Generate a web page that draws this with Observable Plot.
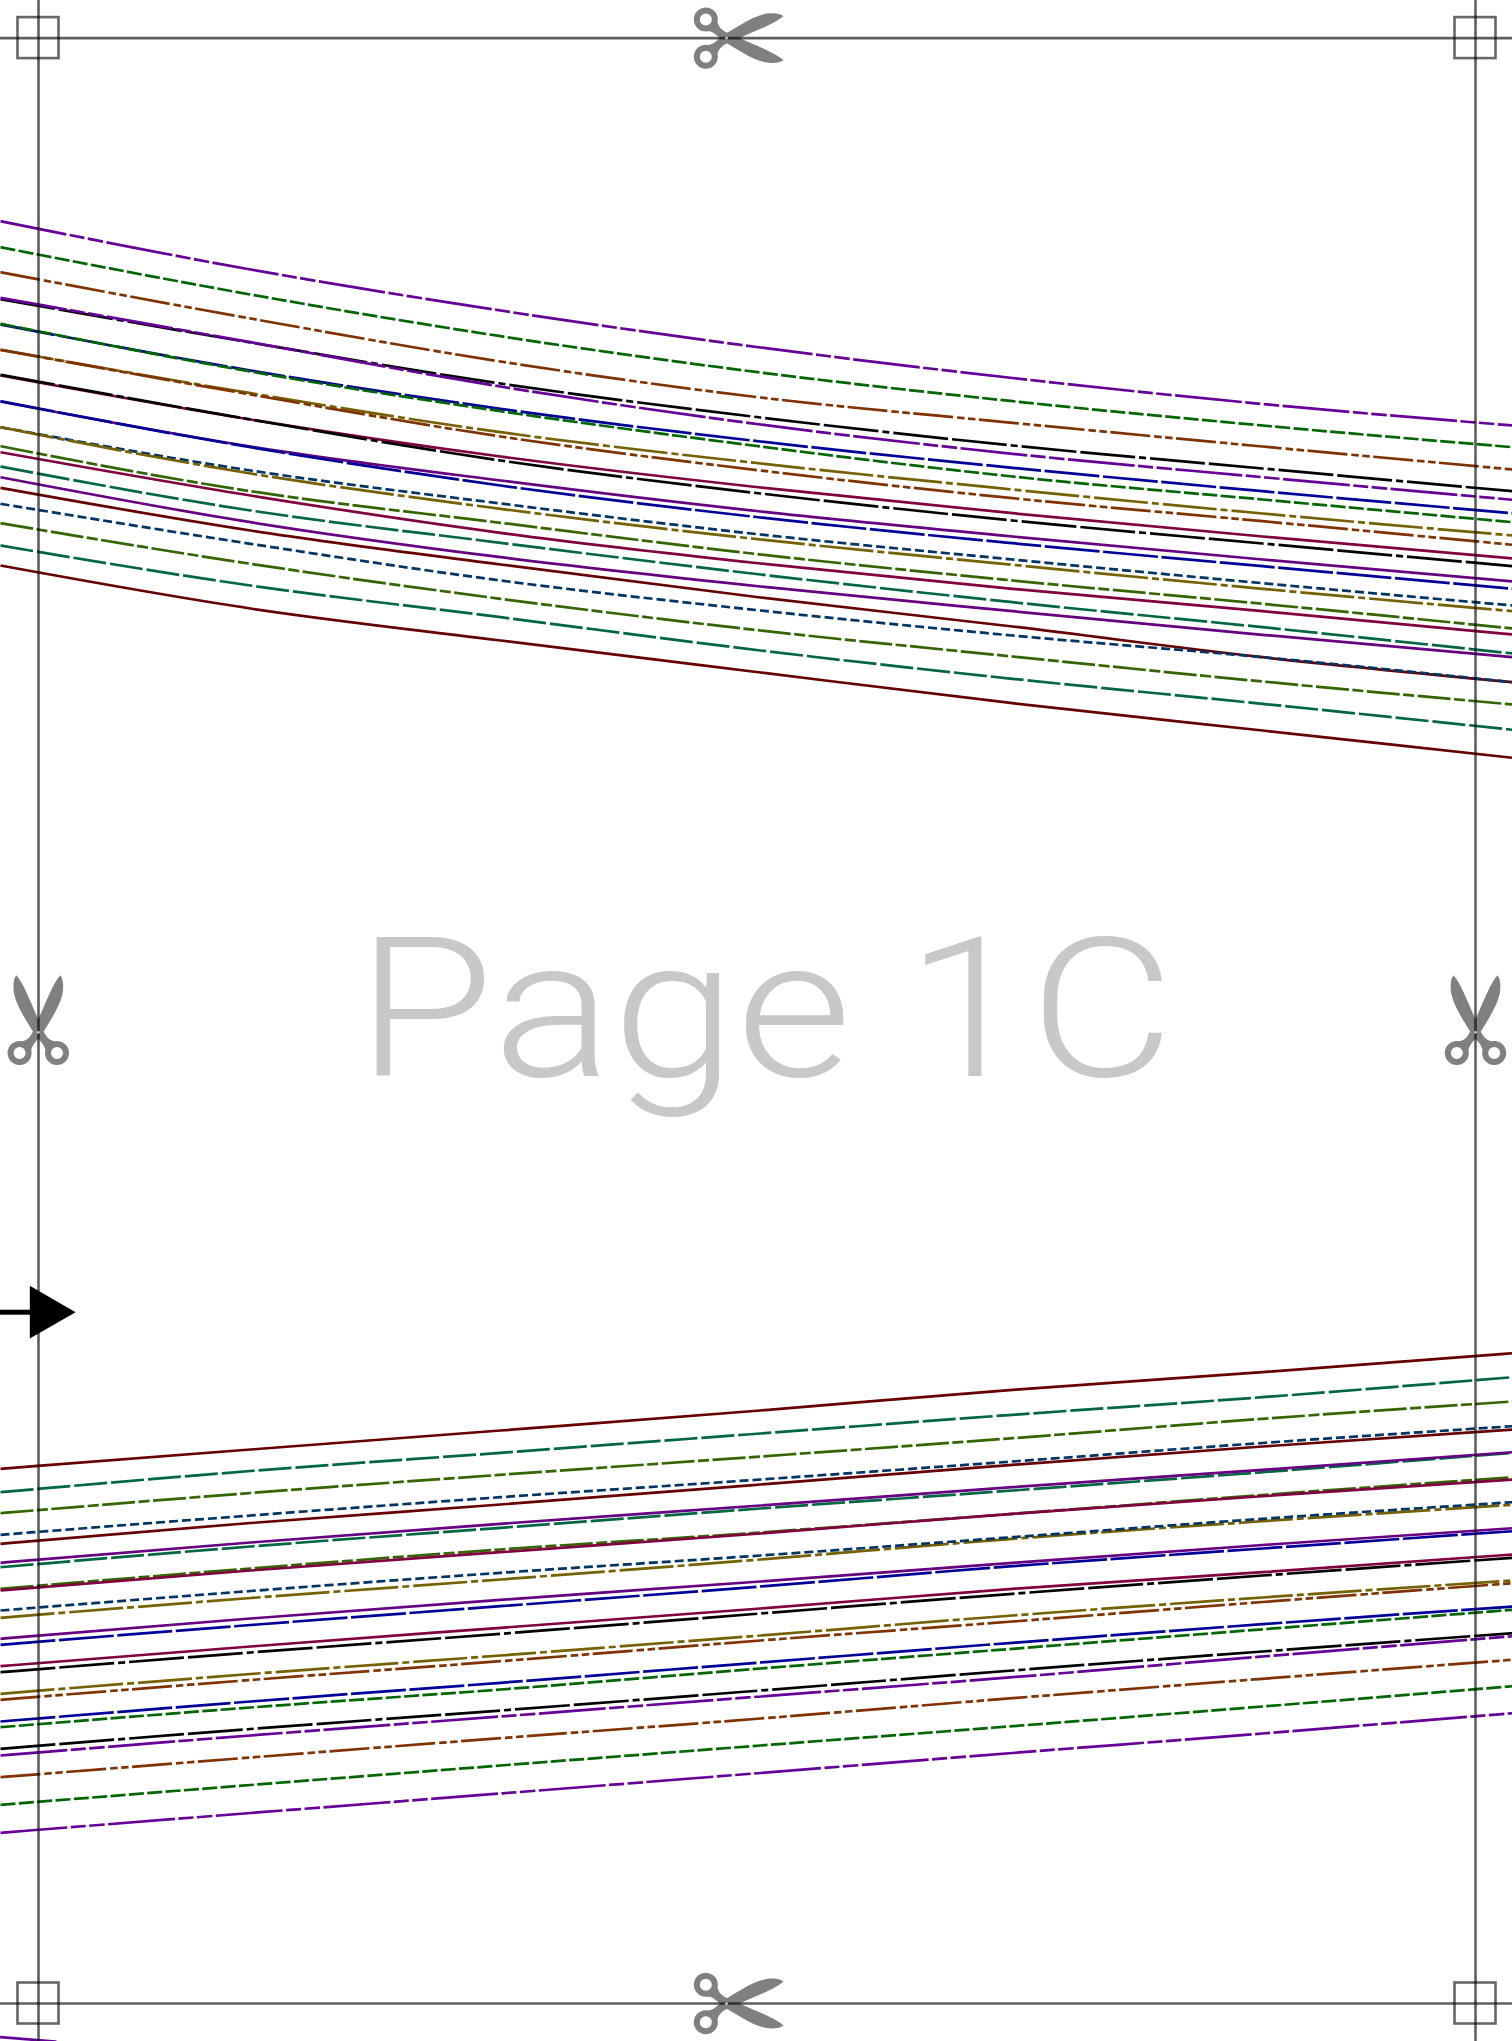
<!DOCTYPE html>
<html>
<head>
<meta charset="utf-8">
<title>Page 1C</title>
<style>html,body{margin:0;padding:0;background:#fff}svg{display:block}</style>
<script src="https://cdn.jsdelivr.net/npm/d3@7"></script>
<script src="https://cdn.jsdelivr.net/npm/@observablehq/plot@0.6"></script>
</head>
<body>
<div id="chart"></div>
<script>
const xGrid = [0, 250, 500, 760, 1012, 1262, 1512];

// Upper fan of curves
const upPurpleA = [220.7, 269, 310, 347, 377.5, 403.5, 425];
const upGreenA  = [246.7, 294, 335.7, 372, 400.7, 425, 446.7];
const upBrownA  = [271.7, 318, 361, 397, 422.3, 446, 469];
const upPurpleB = [297.3, 341.7, 386, 424, 453.3, 476.7, 499.3];
const upBlackA  = [298.7, 342, 383, 417, 445, 468, 490.7];
const upBlueA   = [324, 370, 408.3, 441, 467.3, 490.7, 512.7];
const upGreenB  = [323.3, 371, 410.7, 446, 476, 499, 521.7];
const upBrownB  = [349.3, 394, 436, 470, 497.7, 520.7, 544.3];
const upOliveA  = [349.3, 392.7, 431.7, 463, 489, 513, 535];
const upBlackB  = [374.3, 419, 460, 493, 520, 543, 565.7];
const upCrimA   = [375, 419, 456, 487, 512.7, 536, 558];
const upBlueB   = [400.7, 446.7, 485, 517, 542.7, 565.7, 588.3];
const upPlumA   = [401, 446, 480, 511, 536, 559, 581];
const upOliveB  = [426.7, 473, 508.3, 539, 564.3, 588.3, 610.7];
const upNavyA   = [426.7, 470, 503, 534, 559, 582.7, 605];
const upForestA = [445.7, 490.7, 522.3, 554, 580, 603.3, 628];
const upCrimB   = [451.7, 495, 532.3, 563, 588.3, 610.7, 634];
const upTealA   = [466, 510, 542.3, 574, 601.7, 626.7, 653];
const upPlumB   = [476.7, 521.7, 556.7, 586, 610.7, 634.3, 656.7];
const upRedA    = [487.3, 530, 564, 597, 626, 656.7, 681.7];
const upNavyB   = [503.3, 543.3, 580, 610, 635, 656.7, 681.7];
const upForestB = [522.7, 563.3, 598.3, 630, 656, 681, 704];
const upTealB   = [545, 585, 616.7, 650, 678.3, 703.3, 729.3];
const upRedB    = [565, 608, 640, 672, 702.7, 730, 757.3];

// Lower fan of curves
const loRedB    = [1468.3, 1449, 1430, 1410, 1389.3, 1371.7, 1352.7];
const loTealB   = [1491.7, 1470.5, 1452.3, 1433, 1414.3, 1396.7, 1376.7];
const loForestB = [1512.7, 1492.5, 1474.3, 1456, 1437.7, 1418.3, 1401];
const loNavyB   = [1534.3, 1515, 1496.7, 1479, 1461, 1442.5, 1425.7];
const loRedA    = [1543.3, 1522.5, 1504, 1484, 1464.3, 1446, 1429];
const loPlumB   = [1562.3, 1542, 1523.3, 1505, 1486.7, 1469.3, 1451.7];
const loTealA   = [1566.7, 1546, 1527.3, 1508, 1490, 1471.7, 1452.3];
const loForestA = [1588.3, 1568, 1549, 1532, 1513.3, 1494.5, 1476.7];
const loCrimB   = [1590, 1570, 1551.7, 1533, 1513.3, 1495.7, 1479];
const loNavyA   = [1610, 1590.5, 1572.3, 1555, 1536.7, 1518.3, 1501.7];
const loOliveB  = [1617.3, 1597.5, 1579, 1559, 1538.3, 1520.7, 1504.3];
const loPlumA   = [1638.3, 1618, 1599.3, 1581, 1562.3, 1544.5, 1527.7];
const loBlueB   = [1644.3, 1624.5, 1605.7, 1586, 1565.7, 1548, 1530.7];
const loCrimA   = [1665.7, 1646, 1627.3, 1608, 1588.3, 1571.7, 1554];
const loBlackB  = [1671.7, 1652, 1633.3, 1613, 1593.3, 1575, 1557.3];
const loOliveA  = [1693.3, 1673.5, 1655, 1635, 1615, 1597, 1580];
const loBrownB  = [1699.3, 1679.5, 1660.7, 1640, 1621, 1601.5, 1582.7];
const loBlueA   = [1721, 1701, 1682.3, 1662, 1642.3, 1623.7, 1606];
const loGreenB  = [1726.7, 1707, 1689, 1668, 1648.3, 1628.8, 1609.3];
const loBlackA  = [1748.3, 1728.5, 1710, 1690, 1670, 1651, 1632.7];
const loPurpleB = [1755, 1735, 1716, 1696, 1676.7, 1656, 1635.7];
const loBrownA  = [1776.7, 1757, 1737.7, 1718, 1697.7, 1678.3, 1659.3];
const loGreenA  = [1804.3, 1784.5, 1765, 1745, 1725.7, 1706, 1685.7];
const loPurpleA = [1832.3, 1812.5, 1793, 1772.5, 1752.5, 1733, 1712.7];

// Sliver of the next curve at the foot of the sheet
const footX = [0, 55];
const footY = [2036.7, 2041];

// Sheet furniture
const trimX = [38, 1475];
const trimY = [37.6, 2003];
const pageLabel = ["Page 1C"];
const scissorSpots = [
  {x: 726, y: 37.6, angle: 0},
  {x: 726, y: 2003, angle: 0},
  {x: 37.8, y: 1031.7, angle: -90},
  {x: 1475, y: 1031.7, angle: -90}
];

// Line styles
const ink = {
  purple: "#660099", green: "#006600", brown: "#803300", black: "#000000",
  blue: "#000099", olive: "#756100", crimson: "#800040", plum: "#660080",
  navy: "#003366", forest: "#336600", teal: "#006644", red: "#660000"
};
const dash = {
  purple: "67,3.5,15,3.5,15.5,3.5", green: "15,3.4", brown: "40,4,7.5,3.5,7.5,3.5",
  black: "55,4,55,4,7,4", blue: "55,3.6", olive: "54,4,7,4", crimson: "none", plum: "none",
  navy: "9,4", forest: "33,3.5,11,3.5", teal: "33,4", red: "none"
};

// Painted bottom first
const drawOrder = [
  ["black", upBlackA], ["purple", upPurpleB], ["blue", upBlueA], ["green", upGreenB],
  ["olive", upOliveA], ["brown", upBrownB], ["crimson", upCrimA], ["black", upBlackB],
  ["plum", upPlumA], ["blue", upBlueB], ["navy", upNavyA], ["olive", upOliveB],
  ["purple", upPurpleA], ["green", upGreenA], ["brown", upBrownA], ["forest", upForestA],
  ["crimson", upCrimB], ["teal", upTealA], ["plum", upPlumB], ["red", upRedA],
  ["navy", upNavyB], ["forest", upForestB], ["teal", upTealB], ["red", upRedB],
  ["red", loRedB], ["teal", loTealB], ["forest", loForestB], ["red", loRedA], ["navy", loNavyB],
  ["teal", loTealA], ["plum", loPlumB], ["forest", loForestA], ["crimson", loCrimB],
  ["olive", loOliveB], ["navy", loNavyA], ["blue", loBlueB], ["plum", loPlumA],
  ["black", loBlackB], ["crimson", loCrimA], ["brown", loBrownB], ["olive", loOliveA],
  ["green", loGreenB], ["blue", loBlueA], ["purple", loPurpleB], ["black", loBlackA],
  ["brown", loBrownA], ["green", loGreenA], ["purple", loPurpleA]
];

const curveMarks = drawOrder.map(([key, ys]) =>
  Plot.line(ys.map((y, i) => ({x: xGrid[i], y})), {
    x: "x", y: "y", stroke: ink[key], strokeWidth: 2.7, strokeDasharray: dash[key],
    strokeLinecap: "butt", curve: "monotone-x"
  })
);

const ringOuter = 12, ringInner = 6;
const scissorShape = {
  draw(c) {
    // rings: outer clockwise, hole anticlockwise
    for (const s of [-1, 1]) {
      c.moveTo(-20.7 + ringOuter, s * 18.7);
      c.arc(-20.7, s * 18.7, ringOuter, 0, 2 * Math.PI, false);
      c.closePath();
      c.moveTo(-20.7 + ringInner, s * 18.7);
      c.arc(-20.7, s * 18.7, ringInner, 0, 2 * Math.PI, true);
      c.closePath();
    }
    // blade running up and to the right, thick handle to the lower ring
    c.moveTo(-20, 7);
    c.bezierCurveTo(-14, 8, -8, 1, -3, -3);
    c.bezierCurveTo(10, -11, 26, -22, 40, -24.5);
    c.bezierCurveTo(48, -25.5, 54, -24.5, 57, -22);
    c.bezierCurveTo(48, -14, 30, -8, 11, 1);
    c.lineTo(2, 5);
    c.bezierCurveTo(-4, 7, -8, 11, -9, 16);
    c.closePath();
    // mirror blade
    c.moveTo(-9, -16);
    c.bezierCurveTo(-8, -11, -4, -7, 2, -5);
    c.lineTo(11, -1);
    c.bezierCurveTo(30, 8, 48, 14, 57, 22);
    c.bezierCurveTo(54, 24.5, 48, 25.5, 40, 24.5);
    c.bezierCurveTo(26, 22, 10, 11, -3, 3);
    c.bezierCurveTo(-8, -1, -14, -8, -20, -7);
    c.closePath();
  }
};

const arrowHead = {
  draw(c) {
    c.moveTo(-22.9, -26.4);
    c.lineTo(22.9, 0);
    c.lineTo(-22.9, 26.4);
    c.closePath();
  }
};

const chart = Plot.plot({
  width: 1512,
  height: 2041,
  margin: 0,
  x: {domain: [0, 1512], range: [0, 1512], axis: null},
  y: {domain: [0, 2041], range: [0, 2041], axis: null},
  marks: [
    Plot.text(pageLabel, {
      x: 356, y: 1075, text: d => d, textAnchor: "start", lineAnchor: "bottom",
      fontFamily: "Roboto", fontWeight: 300, fontSize: 194, fill: "#c8c8c8"
    }),
    ...curveMarks,
    Plot.line(footX.map((x, i) => ({x, y: footY[i]})), {x: "x", y: "y", stroke: ink.purple, strokeWidth: 2.7}),
    Plot.dot(scissorSpots, {x: "x", y: "y", rotate: "angle", symbol: scissorShape, fill: "#808080", r: 10}),
    Plot.ruleX(trimX, {stroke: "#000", strokeOpacity: 0.63, strokeWidth: 2.6}),
    Plot.ruleY(trimY, {stroke: "#000", strokeOpacity: 0.63, strokeWidth: 2.6}),
    Plot.rect(
      trimX.flatMap(x => trimY.map(y => ({x, y}))),
      {x1: d => d.x - 20.5, x2: d => d.x + 20.5, y1: d => d.y - 20.5, y2: d => d.y + 20.5,
       fill: "none", stroke: "#000", strokeOpacity: 0.6, strokeWidth: 2.6}
    ),
    Plot.dot(scissorSpots, {x: "x", y: "y", r: 1.5, fill: "#c0c0c0"}),
    Plot.ruleY([1311.7], {x1: 0, x2: 30, stroke: "#000", strokeWidth: 5}),
    Plot.dot([{x: 52.2, y: 1311.7}], {x: "x", y: "y", symbol: arrowHead, fill: "#000", r: 10})
  ]
});
document.getElementById("chart").append(chart);
// Widen the label to the span it has on the sheet
for (const t of chart.querySelectorAll("text")) {
  t.setAttribute("textLength", 818);
  t.setAttribute("lengthAdjust", "spacingAndGlyphs");
}
</script>
</body>
</html>
